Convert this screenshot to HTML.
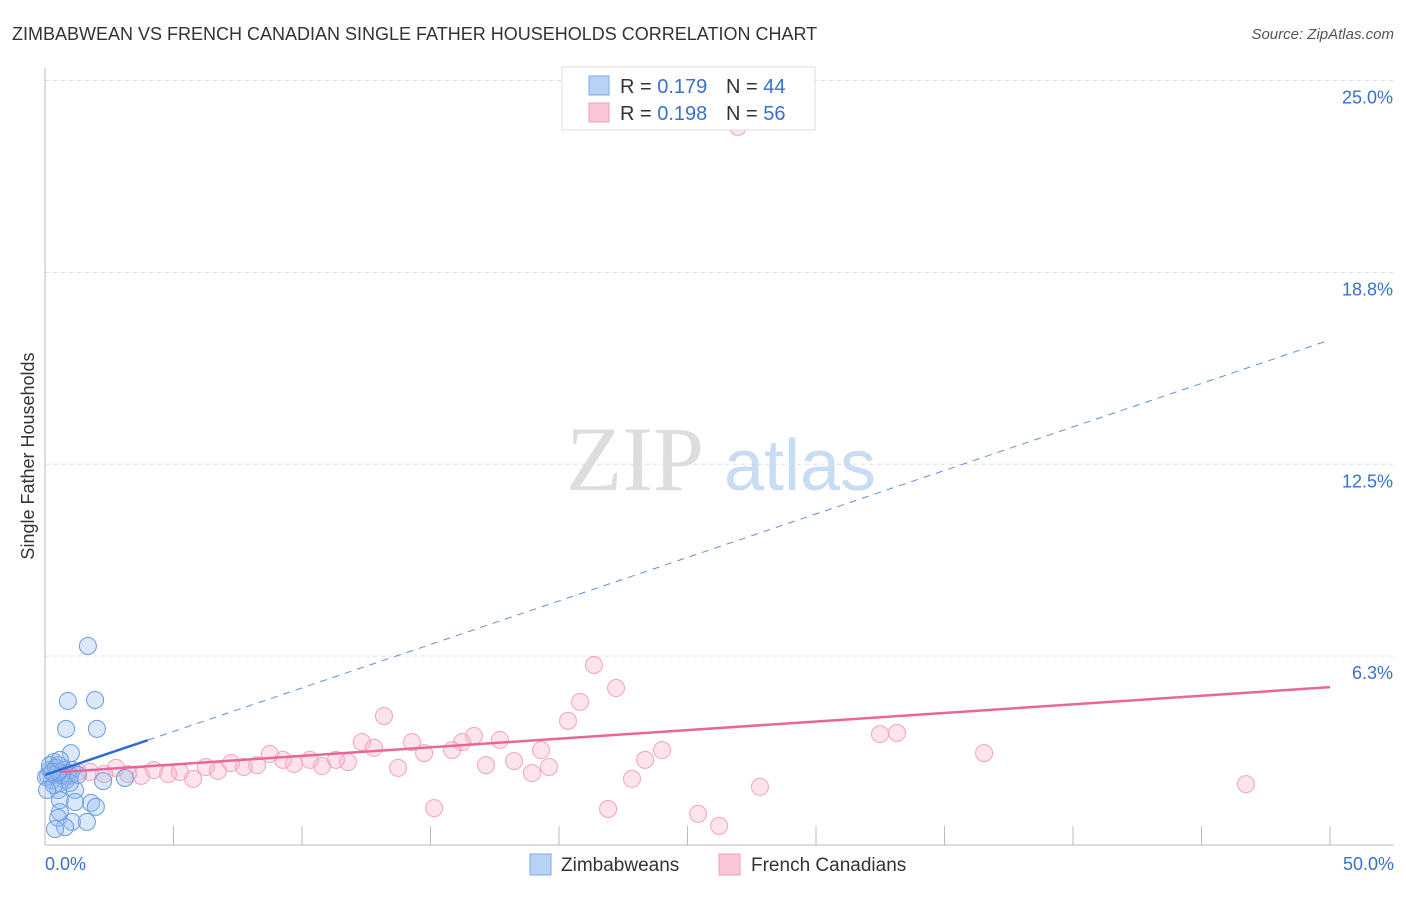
<!DOCTYPE html>
<html><head><meta charset="utf-8"><style>
body{margin:0;background:#fff;font-family:"Liberation Sans",sans-serif;}
svg text{font-family:"Liberation Sans",sans-serif;}
</style></head><body>
<svg id="chart" width="1406" height="892" xmlns="http://www.w3.org/2000/svg">
<text x="12" y="40" font-size="18" fill="#333">ZIMBABWEAN VS FRENCH CANADIAN SINGLE FATHER HOUSEHOLDS CORRELATION CHART</text>
<text x="1394" y="39" font-size="15" fill="#555" font-style="italic" text-anchor="end">Source: ZipAtlas.com</text>
<text x="34" y="456" font-size="18" fill="#333" text-anchor="middle" transform="rotate(-90 34 456)">Single Father Households</text>
<g><text x="635" y="490" font-size="92" fill="#ddd" style="font-family:'Liberation Serif',serif" text-anchor="middle">ZIP</text><text x="800" y="490" font-size="72" fill="#c8dcf3" text-anchor="middle">atlas</text></g>
<g id="grid"></g><g id="axes"></g><g id="marks"></g>
<g>
<rect x="562" y="67" width="253" height="63" fill="#fff" stroke="#ddd"/>
<rect x="589" y="76" width="20" height="19" fill="#b7d2f5" stroke="#7ea9e6"/>
<rect x="589" y="103" width="20" height="19" fill="#fac7d6" stroke="#f0a0b8"/>
<text x="620" y="93" font-size="20" fill="#333">R = <tspan fill="#3a70cc">0.179</tspan></text>
<text x="726" y="93" font-size="20" fill="#333">N = <tspan fill="#3a70cc">44</tspan></text>
<text x="620" y="120" font-size="20" fill="#333">R = <tspan fill="#3a70cc">0.198</tspan></text>
<text x="726" y="120" font-size="20" fill="#333">N = <tspan fill="#3a70cc">56</tspan></text>
</g>
<g>
<rect x="530" y="854" width="21" height="21" fill="#b7d2f5" stroke="#7ea9e6"/>
<text x="561" y="871" font-size="19" fill="#333">Zimbabweans</text>
<rect x="719" y="854" width="21" height="21" fill="#fac7d6" stroke="#f0a0b8"/>
<text x="751" y="871" font-size="19" fill="#333">French Canadians</text>
</g>
</svg>
<script>
const yTicks=[6.25,12.5,18.75,25];
const yTickLabels=["6.3%","12.5%","18.8%","25.0%"];
const xTicks=[5,10,15,20,25,30,35,40,45,50];
const blueX=[1.67,0.89,1.95,0.82,2.02,1.01,0.35,0.51,0.19,0.39,0.66,0.82,0.97,0.58,0.27,0.12,1.05,2.26,3.11,0.51,1.17,0.58,1.17,1.79,1.98,0.58,0.51,1.05,1.63,0.78,0.39,0.04,0.19,0.43,0.74,0.89,0.35,0.08,0.66,0.97,0.51,0.27,0.58,1.28];
const blueY=[6.58,4.79,4.82,3.88,3.88,3.09,2.80,2.70,2.54,2.38,2.44,2.21,2.35,2.12,2.21,2.35,2.54,2.18,2.28,1.89,1.89,1.56,1.50,1.47,1.34,1.17,0.98,0.85,0.85,0.68,0.62,2.31,2.70,2.61,2.54,2.44,2.05,1.89,2.38,2.12,2.48,2.48,2.87,2.38];
const pinkX=[26.96,21.36,22.22,20.82,20.35,13.19,12.33,12.80,14.28,16.69,16.23,17.70,15.84,14.75,24.01,23.35,32.49,33.15,36.54,46.73,27.82,22.84,21.91,25.41,26.23,15.14,19.30,19.61,18.95,18.25,17.16,13.74,11.79,11.32,10.78,10.31,9.69,9.26,8.75,8.25,7.74,7.24,6.73,6.26,5.76,5.25,4.79,4.24,3.74,3.23,2.76,2.30,1.75,1.28,0.82,0.58];
const pinkY=[23.49,5.96,5.21,4.76,4.14,4.30,3.45,3.26,3.45,3.65,3.45,3.52,3.19,3.09,3.19,2.87,3.71,3.75,3.09,2.08,1.99,2.25,1.27,1.11,0.72,1.30,3.19,2.64,2.44,2.83,2.70,2.61,2.80,2.87,2.67,2.87,2.74,2.87,3.06,2.70,2.64,2.77,2.51,2.64,2.25,2.48,2.41,2.54,2.35,2.41,2.61,2.41,2.48,2.48,2.35,2.51];
const blueTrend=[2.38,16.55];
const pinkTrend=[2.44,5.24];
const NS="http://www.w3.org/2000/svg";
const X=v=>45+v*25.7, Y=v=>848-v*30.7;
function mk(t,a,p){const e=document.createElementNS(NS,t);for(const k in a)e.setAttribute(k,a[k]);p.appendChild(e);return e;}
const grid=document.getElementById('grid'),axes=document.getElementById('axes'),marks=document.getElementById('marks');
yTicks.forEach((t,i)=>{
 const l=mk('line',{x1:45,x2:1394,y1:Y(t),y2:Y(t),stroke:'#ddd','stroke-dasharray':'4,4'},grid);
 
 
 const tx=mk('text',{x:1393,y:Y(t)+23,'font-size':18,fill:'#3a70cc','text-anchor':'end'},grid);
 tx.textContent=yTickLabels[i];
 
 
});
const ya=mk('line',{x1:45,x2:45,y1:68,y2:845,stroke:'#bbb'},axes);


const xa=mk('line',{x1:45,x2:1394,y1:845,y2:845,stroke:'#bbb'},axes);


xTicks.forEach(t=>{
 const l=mk('line',{x1:X(t),x2:X(t),y1:826,y2:845,stroke:'#bbb'},axes);
 
 
});
const xl0=mk('text',{x:45,y:870,'font-size':18,fill:'#3a70cc'},axes);xl0.textContent='0.0%';


const xl1=mk('text',{x:1394,y:870,'font-size':18,fill:'#3a70cc','text-anchor':'end'},axes);xl1.textContent='50.0%';


pinkX.forEach((v,i)=>{
 const c=mk('circle',{cx:X(v),cy:Y(pinkY[i]),r:8.5,fill:'rgba(248,176,200,0.35)',stroke:'#f0a4bd','stroke-width':1},marks);
 
 
});
blueX.forEach((v,i)=>{
 const c=mk('circle',{cx:X(v),cy:Y(blueY[i]),r:8.5,fill:'rgba(150,190,240,0.35)',stroke:'#6e9be0','stroke-width':1},marks);
 
 
});
const bt=v=>blueTrend[0]+(blueTrend[1]-blueTrend[0])*v/50;
const pt=v=>pinkTrend[0]+(pinkTrend[1]-pinkTrend[0])*v/50;
const bs=mk('line',{x1:X(0),y1:Y(bt(0)),x2:X(4),y2:Y(bt(4)),stroke:'#2f6ad6','stroke-width':2.5},marks);


const bd=mk('line',{x1:X(4),y1:Y(bt(4)),x2:X(50),y2:Y(bt(50)),stroke:'#5f8fdc','stroke-width':1,'stroke-dasharray':'7,6'},marks);


const pl=mk('line',{x1:X(0.6),y1:Y(pt(0.6)),x2:X(50),y2:Y(pt(50)),stroke:'#e8679a','stroke-width':2.5},marks);


</script>
</body></html>
